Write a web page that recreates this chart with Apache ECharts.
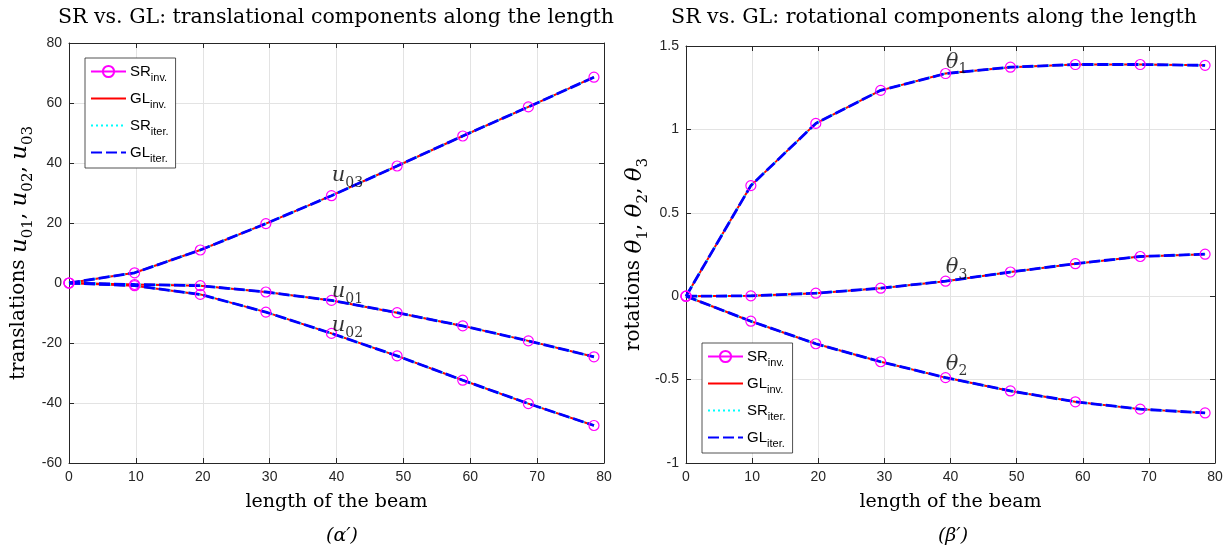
<!DOCTYPE html>
<html><head><meta charset="utf-8">
<script src="https://cdn.jsdelivr.net/npm/echarts@6/dist/echarts.min.js"></script>
<style>html,body{margin:0;padding:0;background:#fff}#c{width:1231px;height:553px}</style>
</head><body><div id="c"></div>
<script>
// ---- data ----
const beamLength = [0, 9.81, 19.63, 29.44, 39.25, 49.06, 58.88, 68.69, 78.5];
const u01 = [0, -0.5, -0.9, -3.0, -5.8, -9.9, -14.3, -19.3, -24.6];
const u02 = [0, -0.9, -3.8, -9.7, -16.8, -24.3, -32.4, -40.2, -47.5];
const u03 = [0, 3.4, 11.0, 19.8, 29.1, 39.0, 49.0, 58.7, 68.6];
const th1 = [0, 0.663, 1.036, 1.234, 1.335, 1.373, 1.389, 1.389, 1.384];
const th2 = [0, -0.15, -0.285, -0.393, -0.488, -0.568, -0.633, -0.677, -0.700];
const th3 = [0, 0.002, 0.018, 0.048, 0.09, 0.145, 0.195, 0.238, 0.252];
const methods = ['SR_inv', 'GL_inv', 'SR_iter', 'GL_iter'];
const methodText = ['{m|SR}{s|inv.}', '{m|GL}{s|inv.}', '{m|SR}{s|iter.}', '{m|GL}{s|iter.}'];
const leftCurves = [u01, u02, u03];
const rightCurves = [th1, th2, th3];
const leftCurveNames = ['{i|u}{s|01}', '{i|u}{s|02}', '{i|u}{s|03}'];
const rightCurveNames = ['{i|θ}{s|1}', '{i|θ}{s|2}', '{i|θ}{s|3}'];
const leftNameAnchors = [[39.3, -3.0], [39.3, -14.3], [39.3, 35.7]];
const rightNameAnchors = [[39.3, 1.40], [39.3, -0.41], [39.3, 0.168]];
const leftYTicks = {min: -60, max: 80, interval: 20};
const rightYTicks = {min: -1, max: 1.5, interval: 0.5};
const xTicks = {min: 0, max: 80, interval: 10};

// ---- styles ----
const SERIF = 'DejaVu Serif';
const SANS = 'Liberation Sans';
const AX = '#262626';
const methodStyle = {
  SR_inv: {color: '#ff00ff', width: 1, type: 'solid', symbol: 'circle', symbolSize: 10},
  GL_inv: {color: '#ff0000', width: 2, type: 'solid', symbol: 'none'},
  SR_iter: {color: '#00ffff', width: 2, type: [2, 3], symbol: 'none'},
  GL_iter: {color: '#0000ff', width: 2.8, type: [11, 4], symbol: 'none'}
};
const mathRich = {
  t: {fontFamily: SERIF, fontSize: 19, color: '#000', lineHeight: 22, verticalAlign: 'top'},
  i: {fontFamily: SERIF, fontStyle: 'italic', fontSize: 19, color: '#000', lineHeight: 22, verticalAlign: 'top'},
  s: {fontFamily: SERIF, fontSize: 13, color: '#000', lineHeight: 14, padding: [11, 0, 0, 0], verticalAlign: 'top'}
};
const yNameRich = {
  t: {fontFamily: SERIF, fontSize: 20, color: '#000', lineHeight: 24, verticalAlign: 'top'},
  i: {fontFamily: SERIF, fontStyle: 'italic', fontSize: 23, color: '#000', lineHeight: 24, verticalAlign: 'top'},
  s: {fontFamily: SERIF, fontSize: 15, color: '#000', lineHeight: 15, padding: [12, 0, 0, 0], verticalAlign: 'top'}
};
const labelRich = {
  i: {fontFamily: SERIF, fontStyle: 'italic', fontSize: 21, color: '#000', lineHeight: 22, verticalAlign: 'top'},
  s: {fontFamily: SERIF, fontSize: 14, color: '#000', lineHeight: 14, padding: [11, 0, 0, 0], verticalAlign: 'top'}
};

function xAxisPair(gridIndex) {
  return [
    Object.assign({type: 'value', gridIndex, position: 'bottom',
      axisLine: {show: true, onZero: false, lineStyle: {color: AX, width: 1}},
      axisTick: {show: true, inside: true, length: 5, lineStyle: {color: AX}},
      axisLabel: {color: AX, fontFamily: SANS, fontSize: 14, margin: 7},
      splitLine: {show: true, lineStyle: {color: '#e3e3e3', width: 1}},
      name: '{t|length of the beam}', nameLocation: 'middle', nameGap: 30,
      nameTextStyle: {rich: mathRich}}, xTicks),
    Object.assign({type: 'value', gridIndex, position: 'top',
      axisLine: {show: true, onZero: false, lineStyle: {color: AX, width: 1}},
      axisTick: {show: true, inside: true, length: 5, lineStyle: {color: AX}},
      axisLabel: {show: false}, splitLine: {show: false}}, xTicks)
  ];
}
function yAxisPair(gridIndex, ticks, name, gap) {
  return [
    Object.assign({type: 'value', gridIndex, position: 'left',
      axisLine: {show: true, onZero: false, lineStyle: {color: AX, width: 1}},
      axisTick: {show: true, inside: true, length: 5, lineStyle: {color: AX}},
      axisLabel: {color: AX, fontFamily: SANS, fontSize: 14, margin: 7},
      splitLine: {show: true, lineStyle: {color: '#e3e3e3', width: 1}},
      name, nameLocation: 'middle', nameGap: gap,
      nameTextStyle: {rich: yNameRich}}, ticks),
    Object.assign({type: 'value', gridIndex, position: 'right',
      axisLine: {show: true, onZero: false, lineStyle: {color: AX, width: 1}},
      axisTick: {show: true, inside: true, length: 5, lineStyle: {color: AX}},
      axisLabel: {show: false}, splitLine: {show: false}}, ticks)
  ];
}

const series = [];
function addCurves(curves, axisIndex) {
  methods.forEach(m => {
    const st = methodStyle[m];
    const hasSym = st.symbol === 'circle';
    curves.forEach(vals => {
      series.push({
        type: 'line', name: m, xAxisIndex: axisIndex, yAxisIndex: axisIndex,
        data: beamLength.map((x, k) => [x, vals[k]]),
        symbol: hasSym ? 'circle' : 'none',
        symbolSize: hasSym ? st.symbolSize : 0, showSymbol: hasSym,
        lineStyle: {color: st.color, width: st.width, type: st.type},
        itemStyle: hasSym ? {color: 'rgba(255,255,255,0)', borderColor: st.color, borderWidth: 1.2}
                          : {color: st.color, opacity: 0, borderWidth: 0},
        animation: false, silent: true
      });
    });
  });
}
addCurves(leftCurves, 0);
addCurves(rightCurves, 2);

function addNames(names, anchors, axisIndex) {
  series.push({
    type: 'scatter', xAxisIndex: axisIndex, yAxisIndex: axisIndex, symbolSize: 0,
    silent: true, animation: false, z: 10,
    data: names.map((n, k) => ({name: n, value: anchors[k]})),
    label: {show: true, position: 'right', distance: 0, formatter: p => p.name, rich: labelRich}
  });
}
addNames(leftCurveNames, leftNameAnchors, 0);
addNames(rightCurveNames, rightNameAnchors, 2);

function legendAt(left, top) {
  return {
    left, top, orient: 'vertical', data: methods,
    itemWidth: 35, itemHeight: 14, itemGap: 8,
    backgroundColor: '#fff', borderColor: AX, borderWidth: 0.8, borderRadius: 0,
    padding: [6, 7, 4, 5], selectedMode: false,
    formatter: n => methodText[methods.indexOf(n)],
    textStyle: {padding: [0, 0, 0, -1], rich: {
      m: {fontFamily: SANS, fontSize: 15, color: '#000', lineHeight: 15, verticalAlign: 'top'},
      s: {fontFamily: SANS, fontSize: 11, color: '#000', lineHeight: 10, padding: [8, 0, 0, 0], verticalAlign: 'top'}
    }}
  };
}

const titleStyle = {fontFamily: SERIF, fontSize: 20.5, fontWeight: 'normal', color: '#000'};
const option = {
  backgroundColor: '#fff',
  animation: false,
  title: [
    {text: 'SR vs. GL: translational components along the length', left: 331, top: 2, textAlign: 'center', textStyle: titleStyle},
    {text: 'SR vs. GL: rotational components along the length', left: 929, top: 2, textAlign: 'center', textStyle: titleStyle},
    {text: '(α′)', left: 337, top: 522, textAlign: 'center', textStyle: Object.assign({}, titleStyle, {fontSize: 19, fontStyle: 'italic'})},
    {text: '(β′)', left: 948, top: 522, textAlign: 'center', textStyle: Object.assign({}, titleStyle, {fontSize: 19, fontStyle: 'italic'})}
  ],
  grid: [
    {left: 69, top: 43, width: 535, height: 420},
    {left: 686, top: 46, width: 529, height: 417}
  ],
  xAxis: [...xAxisPair(0), ...xAxisPair(1)],
  yAxis: [
    ...yAxisPair(0, leftYTicks, '{t|translations }{i|u}{s|01}{t|, }{i|u}{s|02}{t|, }{i|u}{s|03}', 36),
    ...yAxisPair(1, rightYTicks, '{t|rotations }{i|θ}{s|1}{t|, }{i|θ}{s|2}{t|, }{i|θ}{s|3}', 36)
  ],
  legend: [legendAt(85, 58), legendAt(702, 343)],
  series
};
echarts.init(document.getElementById('c'), null, {renderer: 'canvas'}).setOption(option);
</script></body></html>
